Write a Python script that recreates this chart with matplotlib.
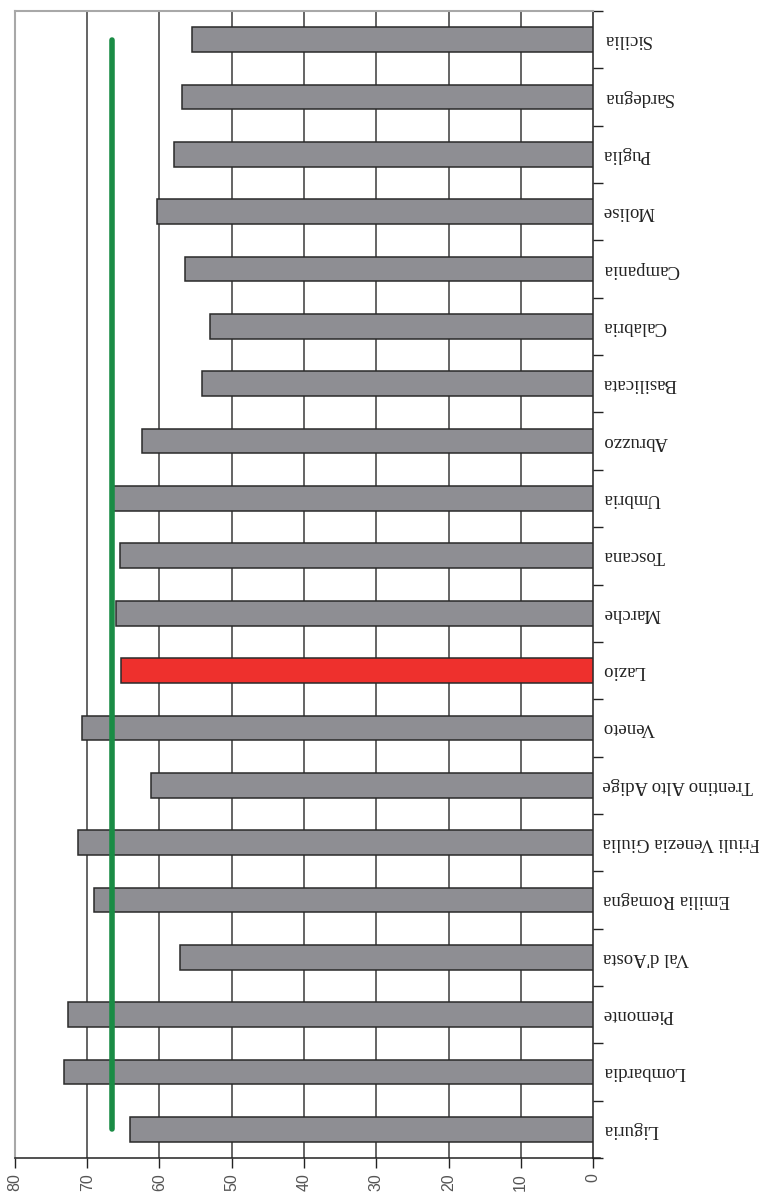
import matplotlib
matplotlib.use("Agg")
import matplotlib.pyplot as plt
import numpy as np

regions = ["Liguria", "Lombardia", "Piemonte", "Val d'Aosta", "Emilia Romagna",
           "Friuli Venezia Giulia", "Trentino Alto Adige", "Veneto", "Lazio",
           "Marche", "Toscana", "Umbria", "Abruzzo", "Basilicata", "Calabria",
           "Campania", "Molise", "Puglia", "Sardegna", "Sicilia"]
values = [64.1, 73.2, 72.7, 57.2, 69.1, 71.3, 61.2, 70.7, 65.3, 66.0,
          65.5, 66.4, 62.4, 54.1, 53.0, 56.5, 60.3, 58.0, 56.9, 55.5]
highlight = "Lazio"
national_avg = 66.6
x_ticks = [0, 10, 20, 30, 40, 50, 60, 70, 80]

fig = plt.figure(figsize=(7.59, 11.93), dpi=100)
W, H = 759, 1193
ax = fig.add_axes([15 / W, (H - 1158) / H, (593 - 15) / W, (1158 - 11) / H])

pos = np.arange(len(regions))
colors = ["#ee302d" if r == highlight else "#8e8e93" for r in regions]
ax.barh(pos, values, height=0.43, color=colors, edgecolor="#2a2a2a",
        linewidth=1.1, zorder=3)

ax.plot([national_avg] * len(regions), pos, color="#1a8c45", linewidth=4,
        solid_capstyle="round", zorder=4)

ax.set_xlim(80, 0)
ax.set_ylim(-0.5, len(regions) - 0.5)

# vertical gridlines
for t in x_ticks[1:-1]:
    ax.axvline(t, color="#3a3a3a", linewidth=1.1, zorder=1)

ax.set_xticks(x_ticks)
ax.set_xticklabels([str(t) for t in x_ticks], rotation=90, fontsize=11.5,
                   color="#555555", family="Liberation Sans")
ax.tick_params(axis="x", direction="out", length=7, width=1, color="#222222", pad=4)

ax.yaxis.tick_right()
ax.set_yticks(pos)
ax.set_yticklabels(regions, rotation=180, ha="left", va="center",
                   fontsize=13.5, family="Liberation Serif", color="#222222")
ax.set_yticks(np.arange(-0.5, len(regions)), minor=True)
ax.tick_params(axis="y", which="major", length=0, pad=7)
ax.tick_params(axis="y", which="minor", direction="out", length=7, width=1,
               color="#222222")

for side in ("top", "left"):
    ax.spines[side].set_color("#a8a8a8")
    ax.spines[side].set_linewidth(1.5)
for side in ("bottom", "right"):
    ax.spines[side].set_color("#222222")
    ax.spines[side].set_linewidth(1.1)

# bottom axis line runs a little past zero
ax.plot([0, -0.9], [-0.5, -0.5], color="#222222", linewidth=1.1,
        clip_on=False, zorder=5)

fig.savefig("out.png", dpi=100, facecolor="white")
